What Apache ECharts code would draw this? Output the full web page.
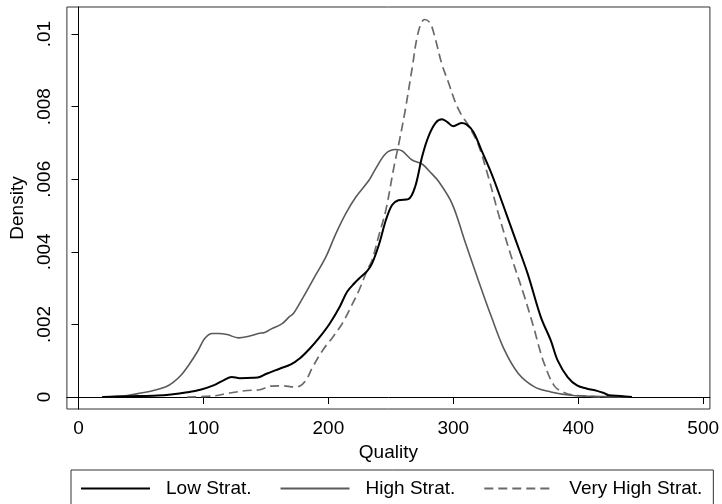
<!DOCTYPE html>
<html>
<head>
<meta charset="utf-8">
<script src="https://cdn.jsdelivr.net/npm/echarts@6/dist/echarts.min.js"></script>
<style>
  html, body { margin: 0; padding: 0; background: #fff; }
  #main { width: 722px; height: 504px; }
</style>
</head>
<body>
<div id="main"></div>
<script>
// kernel density estimates
var lowX = [19, 42, 63, 74, 87, 97.5, 108, 116, 122.7, 129, 140, 145, 150.5, 161, 170, 177, 185, 193, 201, 209, 215, 221, 226, 231, 235, 240.5, 246, 251, 256, 264, 269.5, 275, 280, 286, 291, 295, 300, 306.5, 310.5, 316, 322.5, 330.5, 338.5, 349, 359.5, 370, 378, 383.5, 391.5, 399, 407, 415, 420.5, 424.5, 434, 443]
var lowY = [0, 0.00002, 0.00004, 0.00007, 0.00013, 0.0002, 0.00032, 0.00046, 0.00055, 0.00052, 0.00053, 0.00055, 0.00064, 0.00078, 0.0009, 0.00106, 0.00133, 0.00165, 0.00202, 0.00248, 0.0029, 0.00314, 0.00331, 0.00347, 0.00368, 0.0042, 0.00487, 0.00529, 0.00542, 0.00545, 0.0058, 0.00662, 0.00717, 0.00756, 0.00765, 0.00758, 0.00746, 0.00755, 0.00751, 0.00731, 0.0068, 0.00616, 0.00542, 0.00441, 0.0034, 0.00221, 0.00156, 0.00101, 0.00055, 0.00032, 0.00023, 0.00017, 0.00011, 0.00005, 0.00003, 0]

var highX = [19, 39, 50, 60, 70, 76, 82, 88, 95, 101, 107, 112, 119, 128, 137, 144, 149, 154, 163, 169, 172, 180, 188, 198, 206, 214, 222, 232.5, 238, 246, 254, 259, 267, 275, 282.5, 288, 299, 309, 320, 330.5, 341, 352, 365, 378, 394, 420, 443]
var highY = [0, 0.00004, 0.00011, 0.00018, 0.00028, 0.00041, 0.0006, 0.00087, 0.00124, 0.00161, 0.00175, 0.00175, 0.00172, 0.00163, 0.00168, 0.00175, 0.00178, 0.00187, 0.00202, 0.00222, 0.0023, 0.00276, 0.00325, 0.00386, 0.0045, 0.00506, 0.00551, 0.00597, 0.0063, 0.00671, 0.00682, 0.00678, 0.00653, 0.00642, 0.00616, 0.00595, 0.00533, 0.00432, 0.00322, 0.00221, 0.00129, 0.00065, 0.00028, 0.00014, 0.00005, 0.00001, 0]

var vhighX = [87, 108, 121, 135, 145, 154, 164, 172, 177, 182, 187.5, 195.5, 203.5, 211, 218, 224.5, 231, 235, 240, 246, 252.5, 256.5, 261.5, 267, 272, 277, 281.5, 285.5, 291, 296, 301.5, 306.5, 312, 320, 328, 336, 346.5, 357, 365, 368, 373, 381, 389, 397, 410, 420]
var vhighY = [0, 0.00003, 0.00011, 0.00018, 0.0002, 0.0003, 0.00031, 0.00028, 0.0003, 0.00046, 0.00083, 0.00129, 0.00165, 0.00202, 0.00248, 0.00294, 0.00349, 0.00377, 0.0044, 0.00515, 0.00634, 0.007, 0.0079, 0.00905, 0.01006, 0.0104, 0.0103, 0.00988, 0.00915, 0.00868, 0.00813, 0.00777, 0.00749, 0.00695, 0.00607, 0.00506, 0.00386, 0.00276, 0.00184, 0.00145, 0.0009, 0.0003, 0.00012, 0.00005, 0.00002, 0]

var xTicks = [0, 100, 200, 300, 400, 500]
var yTicks = [0, 0.002, 0.004, 0.006, 0.008, 0.01]
var seriesNames = ['Low Strat.', 'High Strat.', 'Very High Strat.']

function pairs(xs, ys) {
  var out = []
  for (var i = 0; i < xs.length; i++) {
    out.push([xs[i], ys[i]])
  }
  return out
}

var font = "'Liberation Sans', Arial, Helvetica, sans-serif"
var myChart = echarts.init(document.getElementById('main'))

var option = {
  backgroundColor: '#fff',
  animation: false,
  textStyle: { fontFamily: font },
  grid: {
    left: 65,
    right: 9,
    top: 7,
    bottom: 95,
    show: true,
    borderColor: '#333',
    borderWidth: 1
  },
  legend: {
    data: seriesNames,
    left: 71,
    top: 470,
    orient: 'horizontal',
    itemWidth: 69,
    itemHeight: 14,
    itemGap: 28,
    padding: [9, 11, 10, 9],
    borderColor: '#333',
    borderWidth: 1,
    borderRadius: 0,
    backgroundColor: '#fff',
    itemStyle: { opacity: 0 },
    textStyle: { fontSize: 19, color: '#000', fontFamily: font, padding: [0, 0, 0, 11] }
  },
  xAxis: {
    type: 'value',
    min: -9.3,
    max: 505.4,
    name: 'Quality',
    nameLocation: 'middle',
    nameGap: 28,
    nameTextStyle: { fontSize: 19, color: '#000', fontFamily: font },
    axisLine: { show: true, lineStyle: { color: '#000', width: 1 } },
    axisTick: { show: true, length: 7, customValues: xTicks, lineStyle: { color: '#000' } },
    axisLabel: { customValues: xTicks, fontSize: 19, color: '#000', margin: 10, fontFamily: font },
    splitLine: { show: false }
  },
  yAxis: {
    type: 'value',
    min: -0.00033,
    max: 0.010745,
    name: 'Density',
    nameLocation: 'middle',
    nameGap: 37,
    nameTextStyle: { fontSize: 19, color: '#000', fontFamily: font },
    axisLine: { show: true, lineStyle: { color: '#000', width: 1 } },
    axisTick: { show: true, length: 7, customValues: yTicks, lineStyle: { color: '#000' } },
    axisLabel: {
      customValues: yTicks,
      rotate: 90,
      fontSize: 19,
      color: '#000',
      margin: 13,
      fontFamily: font,
      formatter: function (v) {
        if (v === 0) return '0'
        return String(+v.toFixed(4)).replace(/^0/, '')
      }
    },
    splitLine: { show: false }
  },
  series: [
    {
      name: seriesNames[0],
      type: 'line',
      showSymbol: false,
      symbol: 'none',
      smooth: 0.35,
      data: pairs(lowX, lowY),
      lineStyle: { color: '#000', width: 2 },
      itemStyle: { color: '#000' },
      z: 4
    },
    {
      name: seriesNames[1],
      type: 'line',
      showSymbol: false,
      symbol: 'none',
      smooth: 0.35,
      data: pairs(highX, highY),
      lineStyle: { color: '#5a5a5a', width: 1.6 },
      itemStyle: { color: '#5a5a5a' },
      z: 3
    },
    {
      name: seriesNames[2],
      type: 'line',
      showSymbol: false,
      symbol: 'none',
      smooth: 0.35,
      data: pairs(vhighX, vhighY),
      lineStyle: { color: '#6a6a6a', width: 1.7, type: [9, 5] },
      itemStyle: { color: '#6a6a6a' },
      z: 2
    }
  ]
}

myChart.setOption(option)
</script>
</body>
</html>
